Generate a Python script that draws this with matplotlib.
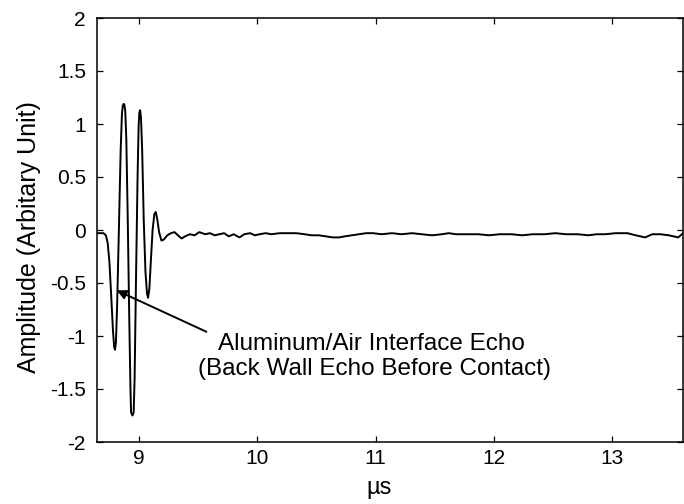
import numpy as np
import matplotlib.pyplot as plt

plt.rcParams['font.family'] = ['Liberation Sans', 'DejaVu Sans']

# echo waveform (time in us, amplitude in arbitrary units)
t_us = [8.645, 8.67, 8.70, 8.72, 8.735, 8.75, 8.765, 8.78, 8.79, 8.797, 8.805,
        8.815, 8.83, 8.845, 8.856, 8.863, 8.870, 8.877, 8.884, 8.893, 8.905, 8.918,
        8.928, 8.933, 8.945, 8.955, 8.963, 8.975, 8.988, 8.997, 9.003, 9.010, 9.017,
        9.027, 9.04, 9.055, 9.068, 9.077, 9.088, 9.10, 9.115, 9.13, 9.142,
        9.155, 9.17, 9.19, 9.21, 9.24, 9.27, 9.30, 9.33, 9.36, 9.39, 9.43,
        9.47, 9.51, 9.56, 9.60, 9.64, 9.68, 9.72, 9.76, 9.80, 9.85, 9.89,
        9.94, 9.98, 10.02, 10.07, 10.12, 10.19, 10.26, 10.33, 10.40, 10.46,
        10.52, 10.58, 10.64, 10.69, 10.74, 10.80, 10.86, 10.92, 10.98, 11.05,
        11.14, 11.22, 11.31, 11.39, 11.48, 11.56, 11.62, 11.68, 11.77, 11.87,
        11.96, 12.05, 12.15, 12.24, 12.33, 12.43, 12.52, 12.61, 12.71, 12.80,
        12.87, 12.94, 13.03, 13.13, 13.20, 13.28, 13.34, 13.41, 13.48, 13.56,
        13.60]
amp = [-0.03, -0.03, -0.03, -0.05, -0.12, -0.3, -0.62, -0.95, -1.1, -1.13, -1.06,
       -0.72, 0.0, 0.75, 1.1, 1.17, 1.19, 1.18, 1.12, 0.85, 0.1, -0.85,
       -1.5, -1.72, -1.75, -1.72, -1.4, -0.45, 0.5, 0.98, 1.11, 1.13, 1.06,
       0.75, 0.1, -0.4, -0.6, -0.64, -0.55, -0.3, 0.0, 0.15, 0.17,
       0.1, -0.02, -0.1, -0.09, -0.05, -0.03, -0.02, -0.05, -0.08, -0.06, -0.04,
       -0.05, -0.02, -0.04, -0.03, -0.05, -0.04, -0.03, -0.06, -0.04, -0.07, -0.04,
       -0.03, -0.05, -0.04, -0.03, -0.04, -0.03, -0.03, -0.03, -0.04, -0.05,
       -0.05, -0.06, -0.07, -0.07, -0.06, -0.05, -0.04, -0.03, -0.03, -0.04,
       -0.03, -0.04, -0.03, -0.04, -0.05, -0.04, -0.03, -0.04, -0.04, -0.04,
       -0.05, -0.04, -0.04, -0.05, -0.04, -0.04, -0.03, -0.04, -0.04, -0.05,
       -0.04, -0.04, -0.03, -0.03, -0.05, -0.07, -0.04, -0.04, -0.05, -0.07,
       -0.03]

x_ticks = [9, 10, 11, 12, 13]
y_ticks = [-2, -1.5, -1, -0.5, 0, 0.5, 1, 1.5, 2]
y_labels = ['-2', '-1.5', '-1', '-0.5', '0', '0.5', '1', '1.5', '2']

arrow_tip = (8.812, -0.57)
arrow_tail = (9.57, -0.96)
note_lines = ['Aluminum/Air Interface Echo', '(Back Wall Echo Before Contact)']
note_pos = [(10.962, -1.131), (10.99, -1.366)]

fig = plt.figure(figsize=(6.84, 5.04), dpi=100)
ax = fig.add_axes([97/684, 1 - 442/504, 586/684, 424/504])

ax.plot(t_us, amp, color='black', lw=1.4)

ax.set_xlim(8.645, 13.6)
ax.set_ylim(-2, 2)
ax.set_xticks(x_ticks)
ax.set_yticks(y_ticks)
ax.set_yticklabels(y_labels)
ax.tick_params(direction='in', length=4, width=0.9, top=True, right=True,
               labelsize=15)
ax.tick_params(axis='x', pad=5)
ax.tick_params(axis='y', pad=8)
for s in ax.spines.values():
    s.set_linewidth(1.1)

ax.set_xlabel('µs', fontsize=17)
ax.xaxis.set_label_coords((379 - 97) / 586, (442 - 477) / 424)
ax.set_ylabel('Amplitude (Arbitary Unit)', fontsize=18)
ax.yaxis.set_label_coords((41 - 97) / 586, (442 - 237) / 424)

ax.annotate('', xy=arrow_tip, xytext=arrow_tail,
            arrowprops=dict(arrowstyle='-|>', color='black', lw=1.4,
                            mutation_scale=14, shrinkA=0, shrinkB=0))
for line, (tx, ty) in zip(note_lines, note_pos):
    ax.text(tx, ty, line, fontsize=17.5, ha='center', va='baseline')

fig.savefig('out.png', dpi=100)
